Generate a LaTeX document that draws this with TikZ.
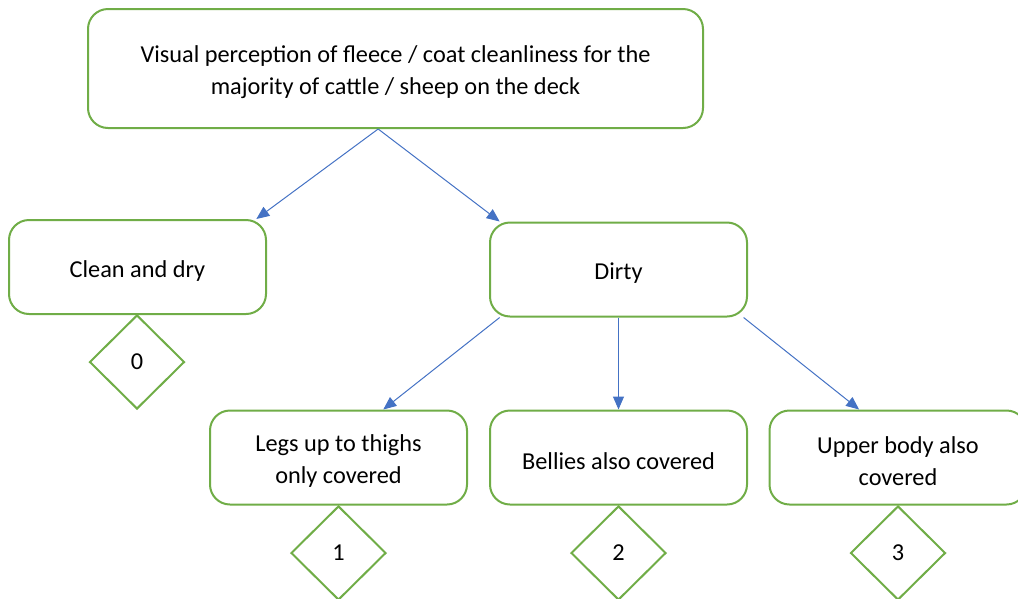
\documentclass[tikz,border=0pt]{standalone}
\usepackage{fontspec}
\setmainfont{Carlito}
\usetikzlibrary{shapes.geometric,arrows.meta}
\definecolor{boxgreen}{HTML}{70AD47}
\definecolor{arrowblue}{HTML}{4472C4}
\newcommand{\topgap}{\rule{0pt}{24pt}}
\tikzset{
  stepbox/.style={draw=boxgreen, line width=2pt, rounded corners=20pt, fill=white,
    align=center, minimum width=257pt, minimum height=94pt, inner sep=0pt,
    font=\fontsize{24.3}{32}\selectfont},
  score/.style={draw=boxgreen, line width=2pt, diamond, minimum width=95pt,
    minimum height=94pt, inner sep=0pt, font=\fontsize{24.3}{32}\selectfont},
  link/.style={draw=arrowblue, line width=1pt, -{Triangle[length=13pt,width=11pt]}}
}
\begin{document}
\begin{tikzpicture}[x=1pt, y=-1pt]
\useasboundingbox (0,0) rectangle (1018,598);

% Question
\node[stepbox, minimum width=615pt, minimum height=119pt] (question) at (395.5,68.5)
  {\topgap Visual perception of fleece / coat cleanliness for the\\majority of cattle / sheep on the deck};

% First level
\node[stepbox] (clean) at (137.5,267) {\topgap Clean and dry};
\node[stepbox] (dirty) at (618.5,269.5) {\topgap Dirty};

% Second level
\node[stepbox] (legs) at (338.5,457.5) {\topgap Legs up to thighs\\only covered};
\node[stepbox] (bellies) at (618.5,457.5) {\topgap Bellies also covered};
\node[stepbox] (upper) at (898,457.5) {\topgap Upper body also\\covered};

% Scores
\node[score] (s0) at (137,362) {0};
\node[score] (s1) at (338.5,553) {1};
\node[score] (s2) at (618.5,553) {2};
\node[score] (s3) at (898,553) {3};

% Arrows
\draw[link] (question.254) -- (clean.22);
\draw[link] (question.254) -- (dirty.158);
\draw[link] (dirty.-158) -- (legs.47);
\draw[link] (dirty.south) -- (bellies.north);
\draw[link] (dirty.-21) -- (upper.129);
\end{tikzpicture}
\end{document}
